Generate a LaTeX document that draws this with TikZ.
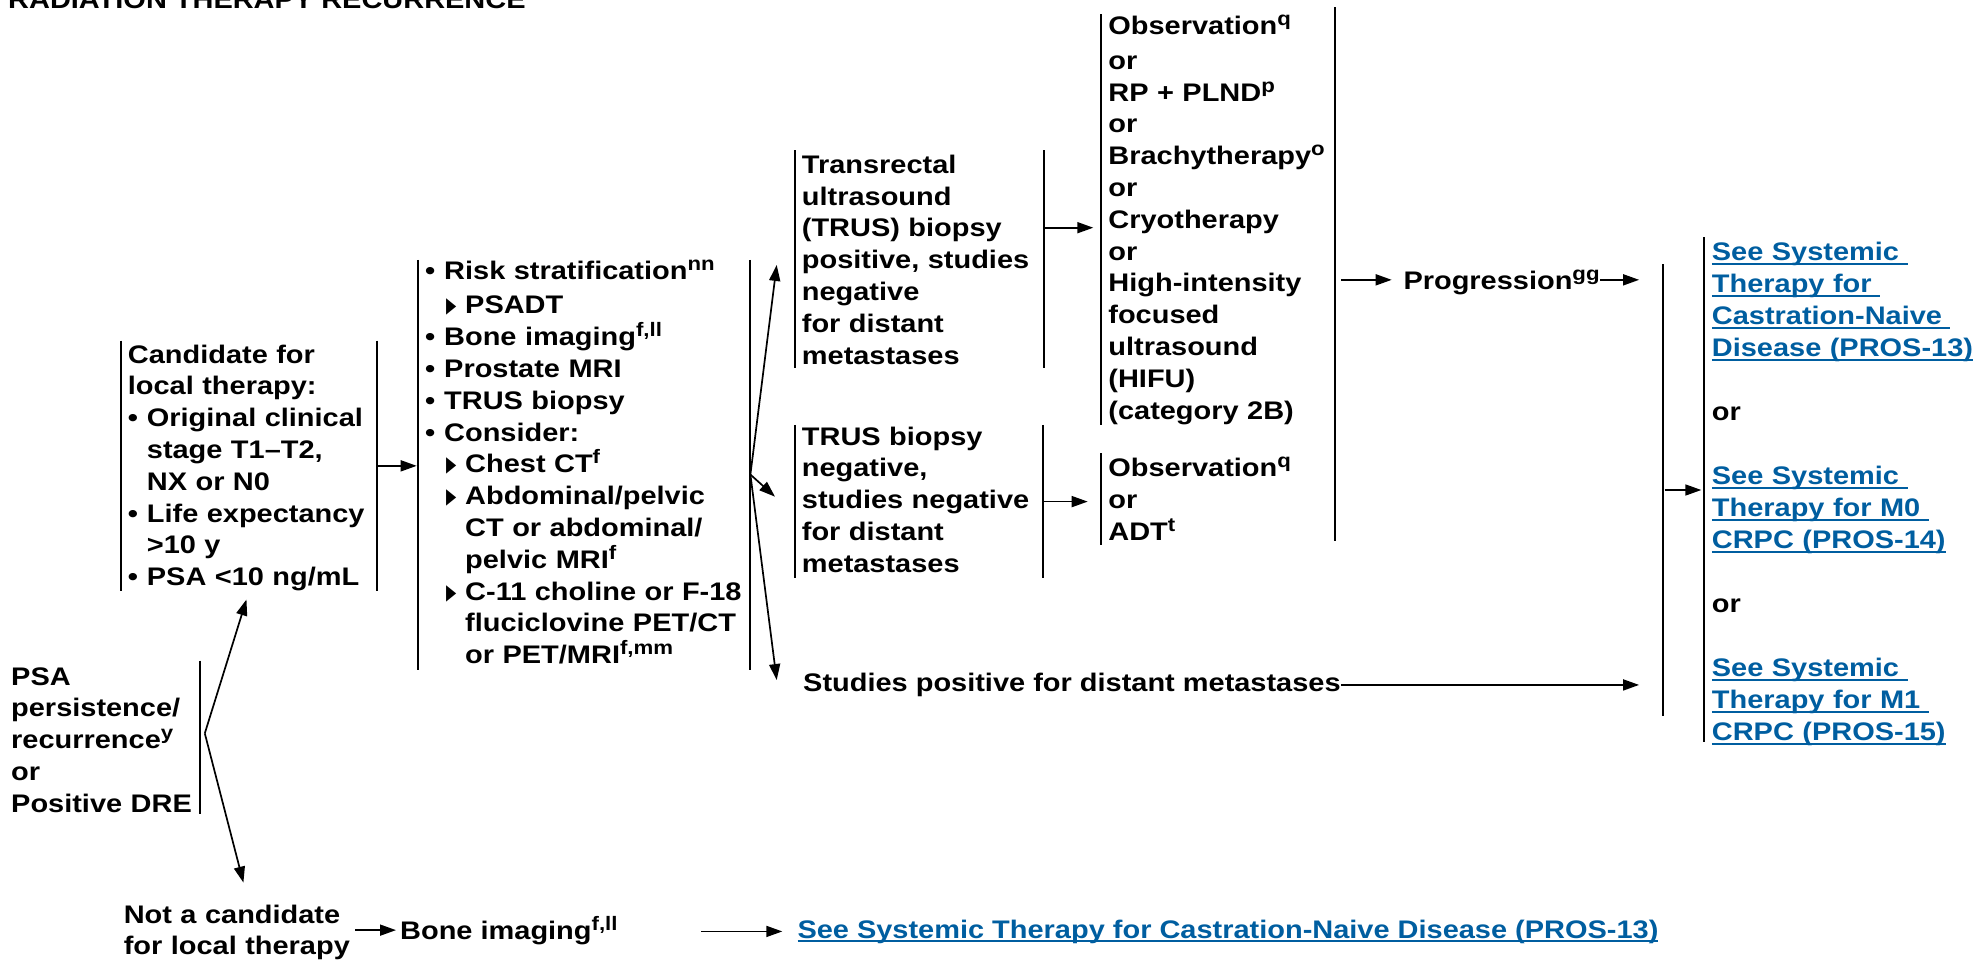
\documentclass[tikz,border=0pt]{standalone}
\usepackage{fontspec}
\usepackage{graphicx}
\setmainfont{Liberation Sans}[FakeStretch=1.14]
\newfontfamily\trifont{DejaVu Sans}
\usetikzlibrary{arrows.meta}
\definecolor{linkblue}{RGB}{0,94,160}

% type sizes (no hyphenation anywhere)
\newcommand\mainsize{\fontsize{25.4pt}{31.8pt}\selectfont\bfseries\hyphenpenalty=10000\exhyphenpenalty=10000}
\newcommand\linksize{\fontsize{25.4pt}{32pt}\selectfont\bfseries\hyphenpenalty=10000\exhyphenpenalty=10000}
% superscript footnote letters
\newcommand\spx[1]{\raisebox{9pt}{\fontsize{19.5pt}{19.5pt}\selectfont #1}}
% invisible struts fixing the height of first and depth of last line
\newcommand\tpx[1]{\rule{0pt}{#1pt}}
\newcommand\btx[1]{\rule[-#1pt]{0pt}{#1pt}}
% list markers and indents
\newcommand\bulx{\makebox[19pt][l]{•}}
\newcommand\indx{\hspace*{19pt}}
\newcommand\trix{\makebox[21pt][l]{\hspace{2.4pt}\raisebox{-2pt}{\scalebox{0.62}[1]{\trifont\fontsize{33pt}{33pt}\selectfont ▸}}}}
\newcommand\subx{\hspace*{19pt}\trix}
\newcommand\subindx{\hspace*{40pt}}
% underlined link text
\newcommand\ulx[1]{\setbox0\hbox{#1}\rlap{\rule[-4pt]{\wd0}{2pt}}\box0}
\newcommand\lnkx[1]{\textcolor{linkblue}{\ulx{#1}}}

\tikzset{
  barbox/.style={anchor=base west, inner ysep=0pt, inner xsep=#1, align=left, font=\mainsize},
  txt/.style={anchor=base west, inner sep=0pt, align=left, font=\mainsize},
  barline/.style={line width=2pt},
  vbar/.style={rectangle, fill=black, inner sep=0pt, minimum width=2pt, minimum height=#1},
  conn/.style={line width=1.7pt, -{Triangle[length=16pt,width=11pt]}},
}

\begin{document}
\begin{tikzpicture}[x=1pt,y=-1pt]
\useasboundingbox (0,0) rectangle (1978,960);

% heading
\node[txt] (title) at (8,8.5) {RADIATION THERAPY RECURRENCE};

% entry condition
\node[txt, text width=189pt] (psa) at (11,685)
  {\tpx{24.3}PSA\\persistence/\\recurrence\spx{y}\\or\\Positive DRE\btx{1.8}};
\draw[barline] (psa.north east) -- (psa.south east);

% candidate for local therapy
\node[barbox=7pt, text width=242.3pt] (cand) at (120.7,363)
  {\tpx{22.3}Candidate for\\local therapy:\\\bulx Original clinical\\\indx stage T1–T2,\\\indx NX or N0\\\bulx Life expectancy\\\indx >10 y\\\bulx PSA <10 ng/mL\btx{5.1}};
\draw[barline] (cand.north west) -- (cand.south west) (cand.north east) -- (cand.south east);

% work-up
\node[barbox=6.7pt, text width=318.3pt] (tests) at (418.3,279.7)
  {\tpx{19}\bulx Risk stratification\spx{nn}\\[2.3pt]\subx PSADT\\\bulx Bone imaging\spx{f,ll}\\\bulx Prostate MRI\\\bulx TRUS biopsy\\\bulx Consider:\\\subx Chest CT\spx{f}\\\subx Abdominal/pelvic\\\subindx CT or abdominal/\\\subindx pelvic MRI\spx{f}\\\subx C-11 choline or F-18\\\subindx fluciclovine PET/CT\\\subindx or PET/MRI\spx{f,mm}\btx{6.5}};
\draw[barline] (tests.north west) -- (tests.south west) (tests.north east) -- (tests.south east);

% work-up results
\node[barbox=6.7pt, text width=235.6pt] (trusp) at (795,173.3)
  {\tpx{22.6}Transrectal\\ultrasound\\(TRUS) biopsy\\positive, studies\\negative\\for distant\\metastases\btx{3.9}};
\draw[barline] (trusp.north west) -- (trusp.south west) (trusp.north east) -- (trusp.south east);

\node[barbox=6.7pt, text width=233.9pt] (trusn) at (795,445)
  {\tpx{20}TRUS biopsy\\negative,\\studies negative\\for distant\\metastases\btx{6}};
\draw[barline] (trusn.north west) -- (trusn.south west) (trusn.north east) -- (trusn.south east);

\node[txt] (stpos) at (803,691.5) {Studies positive for distant metastases};

% treatment options
\node[barbox=7.5pt, text width=220pt] (opt) at (1100.7,35)
  {\tpx{20.7}Observation\spx{q}\\[2.5pt]or\\RP + PLND\spx{p}\\or\\Brachytherapy\spx{o}\\or\\Cryotherapy\\or\\High-intensity\\focused\\ultrasound\\(HIFU)\\(category 2B)\btx{6}};
\draw[barline] (opt.north west) -- (opt.south west);

\node[barbox=7.5pt, text width=220pt] (obs) at (1100.7,476.7)
  {\tpx{23.2}Observation\spx{q}\\or\\ADT\spx{t}\btx{4.3}};
\draw[barline] (obs.north west) -- (obs.south west);

\node[vbar=534pt] (optR) at (1335,274) {};

% progression
\node[txt] (prog) at (1403.3,289.5) {Progression\spx{gg}};
\node[vbar=452pt] (gath) at (1663.3,490) {};

% systemic therapy references
\node[barbox=7.4pt, text width=265pt, font=\linksize] (links) at (1704.3,260.7)
  {\tpx{23.2}\lnkx{See Systemic\ }\\\lnkx{Therapy for\ }\\\lnkx{Castration-Naive\ }\\\lnkx{Disease (PROS-13)}\\[32pt]or\\[32pt]\lnkx{See Systemic\ }\\\lnkx{Therapy for M0\ }\\\lnkx{CRPC (PROS-14)}\\[32pt]or\\[32pt]\lnkx{See Systemic\ }\\\lnkx{Therapy for M1\ }\\\lnkx{CRPC (PROS-15)}};
\draw[barline] (links.north west) -- ([yshift=4pt]links.south west);

% not a candidate branch
\node[txt, text width=226pt] (notcand) at (123.6,923) {\mbox{Not a candidate}\\\mbox{for local therapy}};
\node[txt] (bone) at (400,939) {Bone imaging\spx{f,ll}};
\node[txt] (bl) at (797.3,938) {\lnkx{See Systemic Therapy for Castration-Naive Disease (PROS-13)}};

% connectors
\coordinate (fork) at ([xshift=4.4pt,yshift=4pt]psa.east);
\draw[conn, shorten >=8.7pt] (fork) -- (cand.south);
\draw[conn, shorten >=22.5pt] (fork) -- (notcand.north -| cand.south);
\draw[conn, shorten >=1.6pt] (cand.east) -- (cand.east -| tests.west);

\coordinate (fan) at ([yshift=-9.4pt]tests.east);
\draw[conn] (fan) -- ([xshift=-18.3pt,yshift=-5.6pt]trusp.west);
\draw[conn] (fan) -- ([xshift=-20pt,yshift=4.9pt]trusn.west);
\draw[conn] (fan) -- ([xshift=-26.3pt,yshift=4.9pt]stpos.west);

\draw[conn, shorten >=7.4pt] ([yshift=-8pt]opt.west -| trusp.east) -- ([yshift=-8pt]opt.west);
\draw[conn, shorten >=13pt] (trusn.east) -- (trusn.east -| obs.west);
\draw[conn, shorten >=11.6pt, shorten <=5pt] ([yshift=2.6pt]optR.east |- prog.west) -- ([yshift=2.6pt]prog.west);
\draw[conn, shorten >=23pt] ([yshift=2.6pt]prog.east) -- ([yshift=2.6pt]prog.east -| gath.west);
\draw[conn, shorten >=23pt] (stpos.east) -- (stpos.east -| gath.west);
\draw[conn, shorten >=3pt] (gath.east) -- (gath.east -| links.west);

\draw[conn, shorten >=4pt, shorten <=5pt] (notcand.east |- bone.west) -- (bone.west);
\draw[conn] ([xshift=-96pt]bl.west) -- ([xshift=-15pt]bl.west);
\end{tikzpicture}
\end{document}
